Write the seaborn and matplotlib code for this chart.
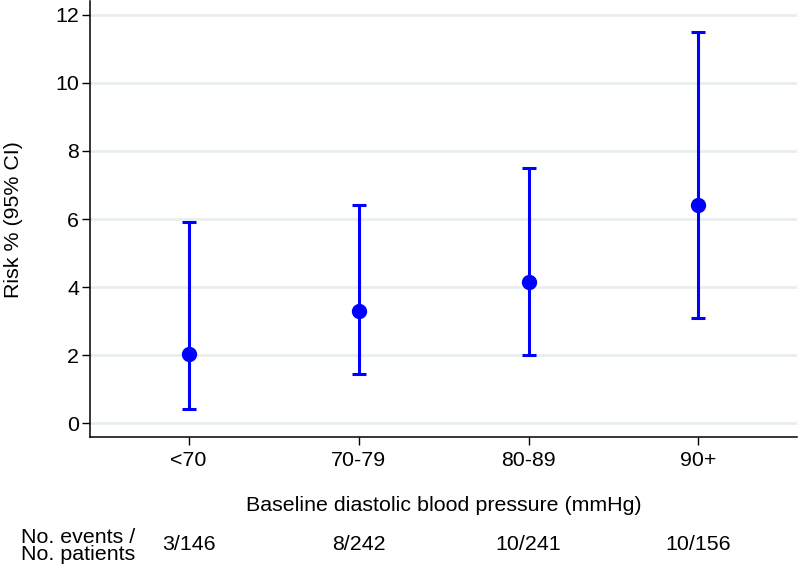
'''
Risk by baseline diastolic blood pressure, with 95% CI
'''
import matplotlib
matplotlib.use("Agg")
import matplotlib.pyplot as plt
import matplotlib.transforms as mtransforms
import pandas as pd
import seaborn as sns

# data
groups = ["<70", "70-79", "80-89", "90+"]
risk = [2.05, 3.3, 4.15, 6.4]
ci_low = [0.43, 1.45, 2.0, 3.1]
ci_high = [5.9, 6.4, 7.5, 11.5]
counts = ["3/146", "8/242", "10/241", "10/156"]

BLUE = "#0000ff"
GRID = "#e8eff1"
FS = 15.4

sns.set_style("white")
plt.rcParams["font.family"] = ["Liberation Sans", "DejaVu Sans"]
plt.rcParams["font.size"] = FS
for key in ["text.color", "axes.labelcolor", "xtick.color", "ytick.color"]:
    plt.rcParams[key] = "black"

df = pd.DataFrame({"group": groups, "risk": risk, "lo": ci_low, "hi": ci_high})

fig = plt.figure(figsize=(7.98, 5.69), dpi=100)
ax = fig.add_axes([0.1128, 0.232, 0.886, 0.766])

# CI bars
pos = range(len(groups))
yerr = [df["risk"] - df["lo"], df["hi"] - df["risk"]]
ax.errorbar(pos, df["risk"], yerr=yerr, fmt="none", ecolor=BLUE,
            elinewidth=2.2, capsize=4.8, capthick=2.2, zorder=3)

# point estimates
sns.pointplot(data=df, x="group", y="risk", order=groups, color=BLUE,
              linestyle="none", markers="o", markersize=9,
              errorbar=None, ax=ax, zorder=4)

ax.set_xlim(-0.58, 3.58)
ax.set_ylim(-0.4, 12.4)
ax.set_yticks([0, 2, 4, 6, 8, 10, 12])
ax.yaxis.grid(True, color=GRID, linewidth=2)
ax.set_axisbelow(True)

for side in ["top", "right"]:
    ax.spines[side].set_visible(False)
for side in ["left", "bottom"]:
    ax.spines[side].set_color("black")
    ax.spines[side].set_linewidth(1.1)

ax.tick_params(axis="both", which="both", direction="out", length=6,
               width=1, color="black", labelcolor="black", labelsize=FS,
               left=True, bottom=True)
ax.tick_params(axis="x", pad=4)
ax.tick_params(axis="y", pad=2)

ax.set_ylabel("Risk % (95% CI)", fontsize=FS, color="black")
ax.yaxis.set_label_coords(-0.095, 0.5)
ax.set_xlabel("Baseline diastolic blood pressure (mmHg)", fontsize=FS,
              color="black")
ax.xaxis.set_label_coords(0.5, -0.135)

# counts row under the axis
trans = mtransforms.blended_transform_factory(ax.transData, fig.transFigure)
for i, c in enumerate(counts):
    ax.text(i, 1 - 545 / 569, c, transform=trans, ha="center", va="center",
            fontsize=FS, color="black")
fig.text(21 / 798, 1 - 546 / 569, "No. events /\nNo. patients", ha="left",
         va="center", fontsize=FS, linespacing=0.92, color="black")

fig.savefig("out.png", dpi=100)
